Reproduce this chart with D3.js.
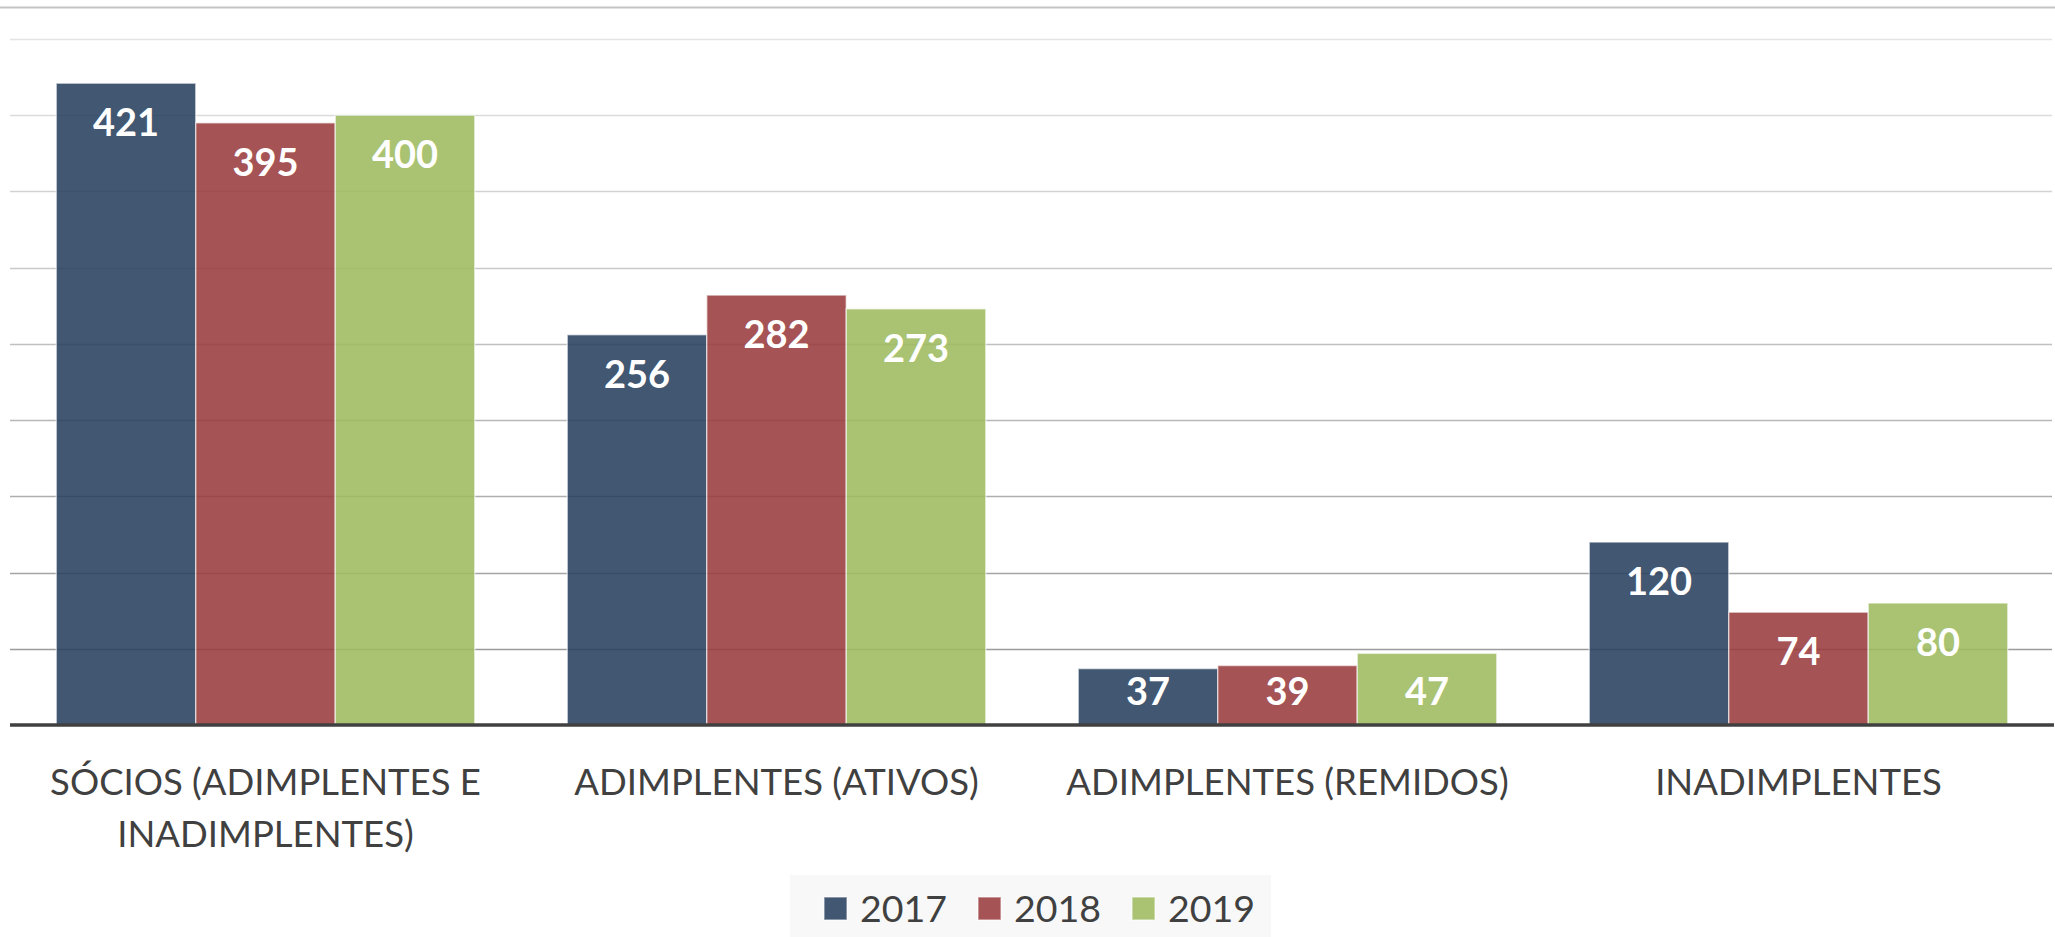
<!DOCTYPE html>
<html>
<head>
<meta charset="utf-8">
<script src="https://cdn.jsdelivr.net/npm/d3@7"></script>
<style>
  body { margin: 0; background: #fff; }
  svg { display: block; font-family: Lato, "Open Sans", sans-serif; }
</style>
</head>
<body>
<svg id="chart" width="2055" height="937"></svg>
<script>
// data
const categories = ["SÓCIOS (ADIMPLENTES E INADIMPLENTES)", "ADIMPLENTES (ATIVOS)", "ADIMPLENTES (REMIDOS)", "INADIMPLENTES"]
const years = ["2017", "2018", "2019"]
const values2017 = [421, 256, 37, 120]
const values2018 = [395, 282, 39, 74]
const values2019 = [400, 273, 47, 80]
const yTicks = [0, 50, 100, 150, 200, 250, 300, 350, 400, 450]

const series = { "2017": values2017, "2018": values2018, "2019": values2019 }
const colors = { "2017": "#27405f", "2018": "#9a3b3d", "2019": "#9dbb60" }

const svg = d3.select("#chart")
const width = 2055

const x = d3.scaleBand().domain(categories).range([10, 2054]).paddingInner(0.181).paddingOuter(0.0905)
const x1 = d3.scaleBand().domain(years).range([0, x.bandwidth()])
const y = d3.scaleLinear().domain([0, 450]).range([725, 39])

// frame line on top
svg.append("line").attr("x1", 0).attr("x2", width).attr("y1", 7.5).attr("y2", 7.5)
   .attr("stroke", "#c4c4c4").attr("stroke-width", 2)

// gridlines, lighter towards the top
const gridColor = d3.scaleLinear().domain([50, 450]).range(["#9c9c9c", "#e4e4e4"])
svg.append("g").selectAll("line").data(yTicks.filter(d => d > 0)).join("line")
   .attr("x1", 10).attr("x2", 2052)
   .attr("y1", d => Math.round(y(d)) + 0.5).attr("y2", d => Math.round(y(d)) + 0.5)
   .attr("stroke", d => gridColor(d)).attr("stroke-width", 1.5)

// bars
const groups = svg.append("g").selectAll("g").data(categories).join("g")
   .attr("transform", d => `translate(${x(d)},0)`)

const rows = (c, i) => years.map(yr => ({ year: yr, value: series[yr][i] }))

groups.selectAll("rect").data(rows).join("rect")
   .attr("x", d => x1(d.year))
   .attr("y", d => y(d.value))
   .attr("width", x1.bandwidth())
   .attr("height", d => y(0) - y(d.value))
   .attr("fill", d => colors[d.year])
   .attr("fill-opacity", 0.88)
   .attr("stroke", "rgba(255,255,255,0.55)")
   .attr("stroke-width", 1.5)

// value labels, inside end
groups.selectAll("text").data(rows).join("text")
   .attr("x", d => x1(d.year) + x1.bandwidth() / 2)
   .attr("y", d => Math.min(y(d.value) + 53, y(0) - 20))
   .attr("text-anchor", "middle")
   .attr("fill", "#fff")
   .attr("font-weight", "bold")
   .attr("font-size", 38)
   .text(d => d.value)

// axis line
svg.append("line").attr("x1", 10).attr("x2", 2054).attr("y1", y(0)).attr("y2", y(0))
   .attr("stroke", "#404040").attr("stroke-width", 3.5)

// category labels, wrapped
const labelSize = 36.5
const lab = svg.append("g").selectAll("text").data(categories).join("text")
   .attr("x", d => x(d) + x.bandwidth() / 2)
   .attr("y", 795)
   .attr("text-anchor", "middle")
   .attr("fill", "#404040")
   .attr("font-size", labelSize)
lab.each(function (d) {
  const t = d3.select(this)
  const words = d.split(" ")
  let line = []
  let tspan = t.append("tspan").attr("x", t.attr("x")).attr("dy", 0)
  for (const w of words) {
    line.push(w)
    tspan.text(line.join(" "))
    if (tspan.node().getComputedTextLength() > 490 && line.length > 1) {
      line.pop()
      tspan.text(line.join(" "))
      line = [w]
      tspan = t.append("tspan").attr("x", t.attr("x")).attr("dy", 52).text(w)
    }
  }
})

// legend
const legend = svg.append("g")
legend.append("rect").attr("x", 790).attr("y", 875).attr("width", 481).attr("height", 62).attr("fill", "#f8f8f8")
const lx = d3.scalePoint().domain(years).range([824, 1132])
const item = legend.selectAll("g.item").data(years).join("g").attr("class", "item")
   .attr("transform", d => `translate(${lx(d)},0)`)
item.append("rect").attr("x", 0).attr("y", 897).attr("width", 23).attr("height", 23)
   .attr("fill", d => colors[d]).attr("fill-opacity", 0.88)
   .attr("stroke", "rgba(255,255,255,0.5)").attr("stroke-width", 1.5)
item.append("text").attr("x", 36).attr("y", 921.5)
   .attr("fill", "#404040").attr("font-size", 37.5).text(d => d)
</script>
</body>
</html>
